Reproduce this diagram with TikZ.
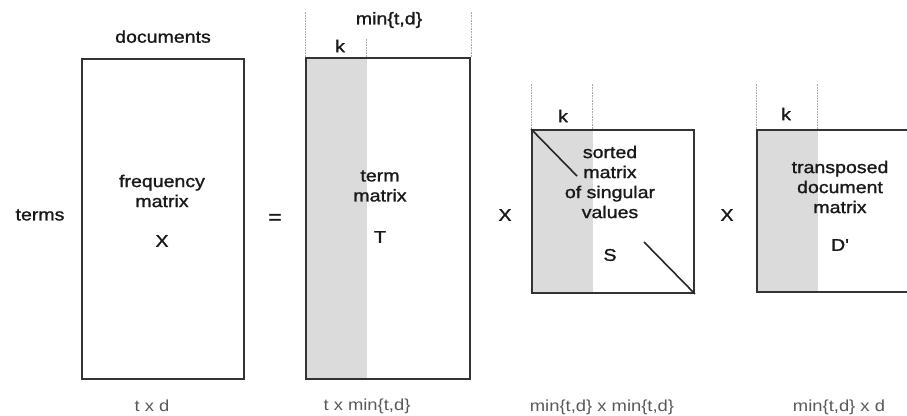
\documentclass[tikz,border=0pt]{standalone}
\usepackage{fontspec}
\setmainfont[FakeStretch=1.15]{Liberation Sans}
\newfontfamily\heavyfont[FakeStretch=1.15, FakeBold=1.3]{Liberation Sans}
\usetikzlibrary{positioning, calc}

\begin{document}
\begin{tikzpicture}[
  x=1pt, y=-1pt,
  mat/.style={draw=black!80, line width=1.9pt, inner sep=0pt, minimum width=162pt},
  kband/.style={path picture={\fill[black!14] (path picture bounding box.north west) rectangle ([xshift=61pt]path picture bounding box.south west);}},
  lbl/.style={font=\heavyfont\fontsize{17}{20}\selectfont, text=black!90, align=center, inner sep=0pt},
  dim/.style={font=\fontsize{16}{19}\selectfont, text=black!65, inner sep=0pt},
  guide/.style={densely dotted, black!35, line width=0.6pt},
  diag/.style={black!85, line width=1.6pt}]
  \clip (0,0) rectangle (907,415);
  % the four matrices
  \node[mat, minimum height=320pt] (freq) at (163,219) {};
  \node[mat, kband, minimum width=164pt, minimum height=321pt] (term) at (388,218.5) {};
  \node[mat, kband, minimum height=163pt] (sing) at (613,211.5) {};
  \node[mat, kband, minimum height=162pt] (docs) at (838,211) {};
  % guides above the boxes
  \draw[guide] (term.north west) -- ++(0,-46);
  \draw[guide] ([xshift=61pt]term.north west) -- ++(0,-19);
  \draw[guide] (term.north east) -- ++(0,-46);
  \draw[guide] (sing.north west) -- ++(0,-45);
  \draw[guide] ([xshift=61pt]sing.north west) -- ++(0,-45);
  \draw[guide] (docs.north west) -- ++(0,-45);
  \draw[guide] ([xshift=61pt]docs.north west) -- ++(0,-45);
  % diagonal of S
  \coordinate (dtop) at (577,176);
  \coordinate (dbot) at (644,242);
  \draw[diag] (sing.north west) -- (dtop);
  \draw[diag] (dbot) -- (sing.south east);
  % labels
  \node[lbl, above=15pt of freq] (doclbl) {documents};
  \node[lbl] (minlbl) at (389,20) {min\{t,d\}};
  \node[lbl] (kterm) at (340,46) {k};
  \node[lbl] (ksing) at (563,116) {k};
  \node[lbl] (kdocs) at (786,114) {k};
  \node[lbl] (termlbl) at (40,215) {terms};
  \node[lbl, font=\heavyfont\fontsize{20}{20}\selectfont] (eq) at (275,219) {=};
  \node[lbl] (times1) at (505,215) {X};
  \node[lbl] (times2) at (727,215) {X};
  % texts inside
  \node[lbl] (freqtxt) at (162,191) {frequency\\matrix};
  \node[lbl] (freqsym) at (162,241) {X};
  \node[lbl] (termtxt) at (380,186) {term\\matrix};
  \node[lbl] (termsym) at (380,237) {T};
  \node[lbl] (singtxt) at (610,182) {sorted\\matrix\\of singular\\values};
  \node[lbl] (singsym) at (610,255) {S};
  \node[lbl] (docstxt) at (840,187) {transposed\\document\\matrix};
  \node[lbl] (docssym) at (840,245) {D'};
  % sizes below
  \node[dim] (freqdim) at (152,406) {t x d};
  \node[dim] (termdim) at (367,406) {t x min\{t,d\}};
  \node[dim] (singdim) at (602,407) {min\{t,d\} x min\{t,d\}};
  \node[dim] (docsdim) at (839,407) {min\{t,d\} x d};
\end{tikzpicture}
\end{document}
